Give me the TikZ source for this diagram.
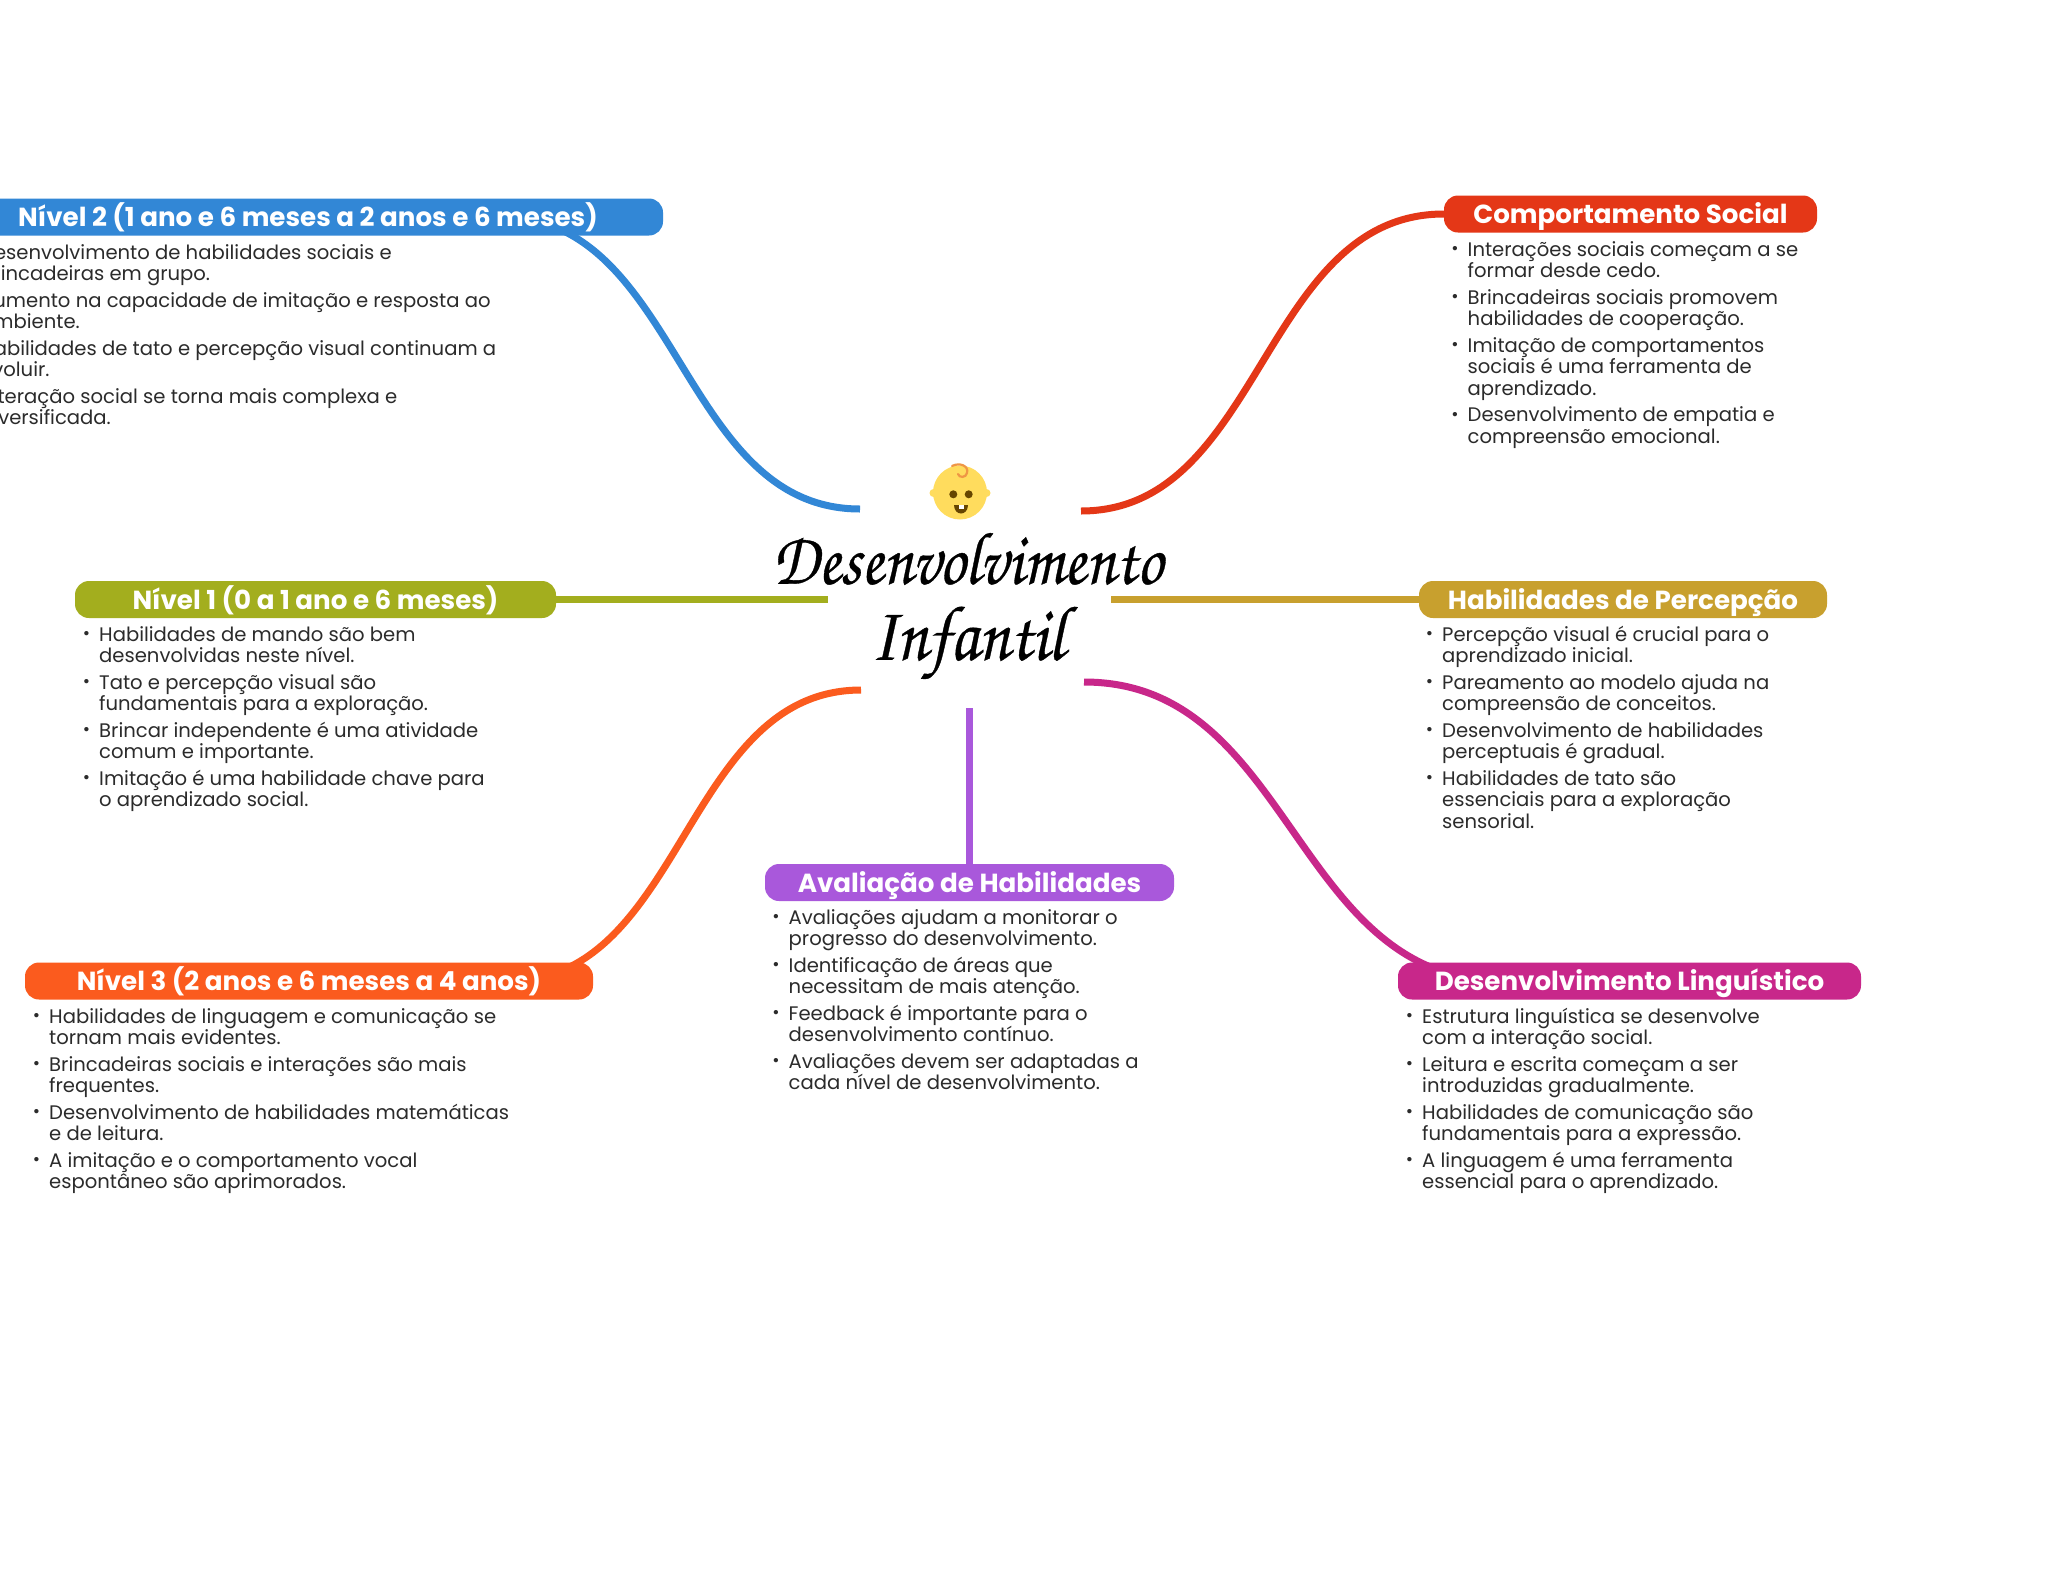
\documentclass[tikz,border=0pt]{standalone}
\usepackage{fontspec}
\usepackage{graphicx}
\setmainfont{Poppins}
\newfontfamily\headfont{Poppins}[UprightFont={* Bold}]
\newfontfamily\titlefont{TeX Gyre Chorus}[FakeBold=0.5]
\usetikzlibrary{backgrounds}
\definecolor{cblue}{HTML}{3287D6}
\definecolor{cred}{HTML}{E43717}
\definecolor{colive}{HTML}{A3AE1E}
\definecolor{cgold}{HTML}{C8A02E}
\definecolor{corange}{HTML}{FB5B1E}
\definecolor{cmag}{HTML}{C8278A}
\definecolor{cpurple}{HTML}{A958DB}
\definecolor{ctext}{HTML}{2B2B2B}
\definecolor{cface}{HTML}{FFDC5D}
\definecolor{ccurl}{HTML}{EF9645}
\definecolor{cdark}{HTML}{664500}
\newcommand\bl{\rule{0pt}{16pt}\makebox[0pt][r]{\raisebox{1.5pt}{\scalebox{.9}{\char"2022}}\hspace{9pt}}}
\newcommand\gap{\\[4.6pt]}
\tikzset{
  bar/.style={fill=#1,text=white,rounded corners=14pt,minimum height=37pt,inner sep=0pt,text height=22pt,text depth=2.6pt,font=\headfont\fontsize{26.15}{30}\selectfont},
  body/.style={anchor=north west,inner sep=0pt,align=left,text=ctext,font=\fontsize{19.6}{21.7}\selectfont},
  link/.style={line width=7pt,draw=#1},
}
\begin{document}
\begin{tikzpicture}[x=1pt,y=-1pt]
\useasboundingbox (0,0) rectangle (2048,1569);
\clip (0,0) rectangle (2048,1569);
% heading bars
\node[bar=cblue,minimum width=710pt] (n2) at (308,217) {Nível 2 (1 ano e 6 meses a 2 anos e 6 meses)};
\node[bar=cred,minimum width=373pt] (cs) at (1630.5,214) {Comportamento Social};
\node[bar=colive,minimum width=481pt] (n1) at (315.5,599.5) {Nível 1 (0 a 1 ano e 6 meses)};
\node[bar=cgold,minimum width=408pt] (hp) at (1623,599.5) {Habilidades de Percepção};
\node[bar=cpurple,minimum width=409pt] (av) at (969.5,882.5) {Avaliação de Habilidades};
\node[bar=corange,minimum width=568pt] (n3) at (309,981) {Nível 3 (2 anos e 6 meses a 4 anos)};
\node[bar=cmag,minimum width=463pt] (dl) at (1629.5,981) {Desenvolvimento Linguístico};
% title
\node[inner sep=0pt,align=center,font=\titlefont\fontsize{65}{76}\selectfont,text=black] (hub) at (967.5,606) {\scalebox{1}[1.15]{Desenvolvimento}\\\scalebox{1.05}[1.2]{Infantil}};
% connector ends
\coordinate (hubNW) at (860,509);
\coordinate (hubNE) at (1081,511);
\coordinate (hubW) at (828,599.5);
\coordinate (hubE) at (1111,599.5);
\coordinate (hubSW) at (861,690);
\coordinate (hubS) at (969.5,708);
\coordinate (hubSE) at (1084,682);
\coordinate (n2s) at (501,217);
\coordinate (n3s) at (508,981);
\coordinate (dls) at (1503,981);
\begin{scope}[on background layer]
\fill[white] (0,0) rectangle (2048,1569);
\draw[link=cblue] (n2s) .. controls (680,217) and (680,509) .. (hubNW);
\draw[link=cred] (cs.west) .. controls (1262,214) and (1262,511) .. (hubNE);
\draw[link=colive] (n1.east) -- (hubW);
\draw[link=cgold] (hubE) -- (hp.west);
\draw[link=cpurple] (hubS) -- (av.north);
\draw[link=corange] (n3s) .. controls (684,981) and (684,690) .. (hubSW);
\draw[link=cmag] (dls) .. controls (1293,981) and (1293,682) .. (hubSE);
\end{scope}
% body lists
\node[body] (t2) at (-20,243) {\bl Desenvolvimento de habilidades sociais e\\brincadeiras em grupo.\gap
\bl Aumento na capacidade de imitação e resposta ao\\ambiente.\gap
\bl Habilidades de tato e percepção visual continuam a\\evoluir.\gap
\bl Interação social se torna mais complexa e\\diversificada.};
\node[body] (tc) at (1467.5,240) {\bl Interações sociais começam a se\\formar desde cedo.\gap
\bl Brincadeiras sociais promovem\\habilidades de cooperação.\gap
\bl Imitação de comportamentos\\sociais é uma ferramenta de\\aprendizado.\gap
\bl Desenvolvimento de empatia e\\compreensão emocional.};
\node[body] (t1) at (99,625) {\bl Habilidades de mando são bem\\desenvolvidas neste nível.\gap
\bl Tato e percepção visual são\\fundamentais para a exploração.\gap
\bl Brincar independente é uma atividade\\comum e importante.\gap
\bl Imitação é uma habilidade chave para\\o aprendizado social.};
\node[body] (tp) at (1442,625) {\bl Percepção visual é crucial para o\\aprendizado inicial.\gap
\bl Pareamento ao modelo ajuda na\\compreensão de conceitos.\gap
\bl Desenvolvimento de habilidades\\perceptuais é gradual.\gap
\bl Habilidades de tato são\\essenciais para a exploração\\sensorial.};
\node[body] (ta) at (788.5,908) {\bl Avaliações ajudam a monitorar o\\progresso do desenvolvimento.\gap
\bl Identificação de áreas que\\necessitam de mais atenção.\gap
\bl Feedback é importante para o\\desenvolvimento contínuo.\gap
\bl Avaliações devem ser adaptadas a\\cada nível de desenvolvimento.};
\node[body] (t3) at (49,1007) {\bl Habilidades de linguagem e comunicação se\\tornam mais evidentes.\gap
\bl Brincadeiras sociais e interações são mais\\frequentes.\gap
\bl Desenvolvimento de habilidades matemáticas\\e de leitura.\gap
\bl A imitação e o comportamento vocal\\espontâneo são aprimorados.};
\node[body] (tl) at (1422,1007) {\bl Estrutura linguística se desenvolve\\com a interação social.\gap
\bl Leitura e escrita começam a ser\\introduzidas gradualmente.\gap
\bl Habilidades de comunicação são\\fundamentais para a expressão.\gap
\bl A linguagem é uma ferramenta\\essencial para o aprendizado.};
% baby face
\fill[cface] (933.5,493) circle (4);
\fill[cface] (986.5,493) circle (4);
\fill[cface] (960,492.5) circle (27);
\draw[ccurl,line width=2.2pt,line cap=round] (952,466) .. controls (960,462) and (969,466) .. (967,473) .. controls (966,478) and (959,478) .. (958,474);
\fill[cdark] (953.3,494.3) circle (4);
\fill[cdark] (968.7,494.3) circle (4);
\fill[cdark] (954,505) -- (968,505) .. controls (968,511) and (964,513.5) .. (961,513.5) .. controls (958,513.5) and (954,511) .. (954,505) -- cycle;
\fill[white] (959,505) rectangle (964,509);
\end{tikzpicture}
\end{document}
